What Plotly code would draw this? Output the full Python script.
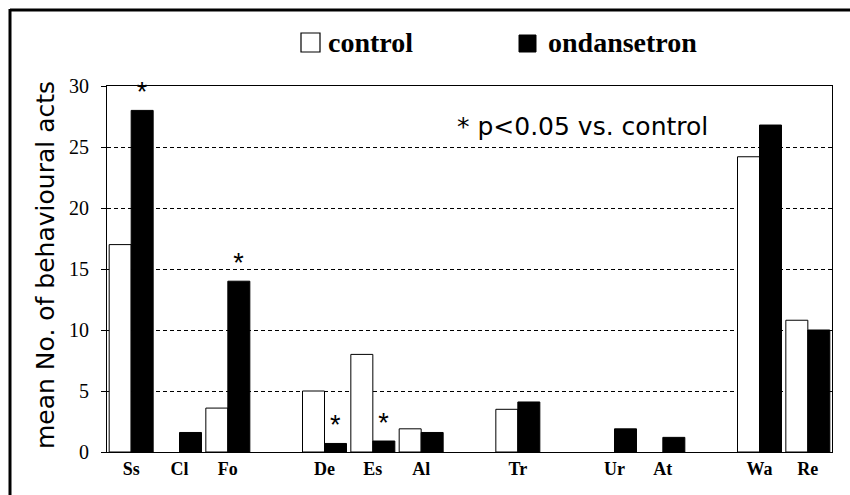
import plotly.graph_objects as go

# ---- data ----
slot_labels = ["Ss", "Cl", "Fo", "", "De", "Es", "Al", "", "Tr", "", "Ur", "At", "", "Wa", "Re"]
control = [17.0, 0.0, 3.6, None, 5.0, 8.0, 1.9, None, 3.5, None, 0.0, 0.0, None, 24.2, 10.8]
ondansetron = [28.0, 1.6, 14.0, None, 0.7, 0.9, 1.6, None, 4.1, None, 1.9, 1.2, None, 26.8, 10.0]
significant = [True, False, True, False, True, True, False, False, False, False, False, False, False, False, False]
y_ticks = [0, 5, 10, 15, 20, 25, 30]

x_pos = list(range(len(slot_labels)))
tick_vals = [i for i, lab in enumerate(slot_labels) if lab]
tick_text = [lab for lab in slot_labels if lab]
star_text = ["*" if s else "" for s in significant]
ctrl_line_w = [1 if v else 0 for v in control]

# pixel -> paper helpers (plot area 107..832 x, 86..452 y in a 850x495 canvas)
L, R, T, B = 107, 832, 86, 452
def px(x):
    return (x - L) / (R - L)
def py(y):
    return (B - y) / (B - T)

fig = go.Figure()
fig.add_trace(go.Bar(
    x=x_pos, y=control, name="control",
    marker=dict(color="white", line=dict(color="black", width=ctrl_line_w)),
))
fig.add_trace(go.Bar(
    x=x_pos, y=ondansetron, name="ondansetron",
    marker=dict(color="black", line=dict(color="black", width=1)),
    text=star_text, textposition="outside", cliponaxis=False,
    textfont=dict(family="Liberation Sans", size=27, color="black"),
))

shapes = [
    # outer frame (top and left edges visible)
    dict(type="line", xref="paper", yref="paper", x0=px(10), x1=px(851), y0=py(10), y1=py(10),
         line=dict(color="black", width=3)),
    dict(type="line", xref="paper", yref="paper", x0=px(10), x1=px(10), y0=py(9), y1=py(496),
         line=dict(color="black", width=3)),
    # legend swatches
    dict(type="rect", xref="paper", yref="paper", x0=px(301), x1=px(320), y0=py(52), y1=py(33),
         line=dict(color="black", width=1.2), fillcolor="white"),
    dict(type="rect", xref="paper", yref="paper", x0=px(519), x1=px(536), y0=py(52), y1=py(35),
         line=dict(color="black", width=1), fillcolor="black"),
]

annotations = [
    dict(xref="paper", yref="paper", x=px(326), y=py(43), text="<b>control</b>", showarrow=False,
         xanchor="left", yanchor="middle", font=dict(family="Liberation Serif", size=28, color="black")),
    dict(xref="paper", yref="paper", x=px(546), y=py(43), text="<b>ondansetron</b>", showarrow=False,
         xanchor="left", yanchor="middle", font=dict(family="Liberation Serif", size=28, color="black")),
    dict(xref="paper", yref="paper", x=px(455), y=py(126), text="* p<0.05 vs. control", showarrow=False,
         xanchor="left", yanchor="middle", font=dict(family="DejaVu Sans", size=25, color="black")),
    dict(xref="paper", yref="paper", x=px(45), y=py(265), text="mean No. of behavioural acts",
         showarrow=False, textangle=-90, xanchor="center", yanchor="middle",
         font=dict(family="DejaVu Sans", size=25, color="black")),
]

fig.update_layout(
    width=850, height=495,
    margin=dict(l=L, r=850 - R, t=T, b=495 - B, pad=0),
    paper_bgcolor="white", plot_bgcolor="white",
    barmode="group", bargap=0.09, bargroupgap=0,
    showlegend=False,
    shapes=shapes, annotations=annotations,
    xaxis=dict(
        range=[-0.5, len(slot_labels) - 0.5], tickmode="array", tickvals=tick_vals, ticktext=tick_text,
        showgrid=False, zeroline=False, showline=True, mirror=True, linecolor="black", linewidth=1,
        ticks="", tickfont=dict(family="Liberation Serif", size=18, color="black", weight="bold"),
    ),
    yaxis=dict(
        range=[0, 30], tickmode="array", tickvals=y_ticks,
        showgrid=True, gridcolor="black", gridwidth=1, griddash="4px,3px",
        zeroline=False, showline=True, mirror=True, linecolor="black", linewidth=1,
        ticks="outside", ticklen=5, tickcolor="black", ticklabelstandoff=8,
        tickfont=dict(family="Liberation Serif", size=20, color="black"),
    ),
)

fig.write_html("out.html", config={"displayModeBar": False},
               post_script="document.body.style.margin='0';")
